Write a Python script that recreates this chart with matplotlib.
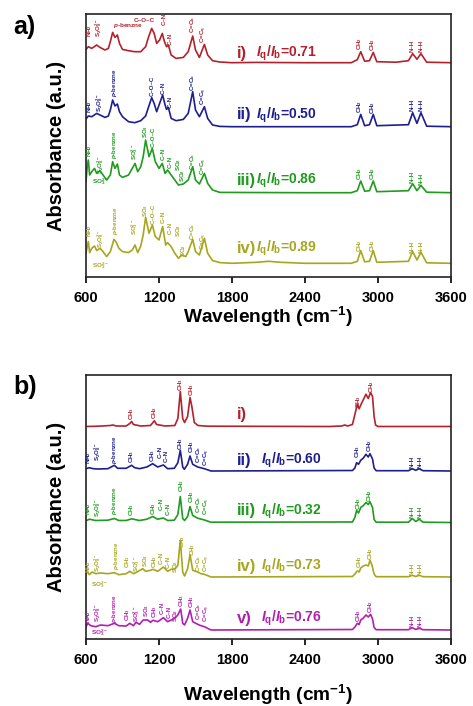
import matplotlib
matplotlib.use('Agg')
import matplotlib.pyplot as plt

plt.rcParams['font.family'] = ['Liberation Sans', 'DejaVu Sans']
plt.rcParams['font.weight'] = 'bold'
plt.rcParams['mathtext.fontset'] = 'custom'
plt.rcParams['mathtext.rm'] = 'Liberation Sans:bold'
plt.rcParams['mathtext.it'] = 'Liberation Sans:italic:bold'
plt.rcParams['mathtext.bf'] = 'Liberation Sans:bold'
plt.rcParams['mathtext.default'] = 'rm'

# ---------------- data: panel a ----------------
a1_wn = [600,619,647,688,715,756,784,800,819,838,858,875,900,950,1000,1050,1090,1115,1140,1160,
         1181,1205,1227,1245,1262,1277,1300,1340,1400,1440,1477,1500,1532,1573,1600,1640,1700,1800,2000,2400,
         2780,2830,2858,2890,2930,2961,2990,3150,3250,3285,3320,3353,3400,3600]
a1_abs = [13.3,16,14.3,17.7,15.3,12.7,14.3,21,30.3,25.3,27.7,19.3,13.3,12,11,11,16,26,34.3,29.3,
          19.3,22.7,29.3,21,16,17.7,7.7,4.3,5.3,11,26.7,12.7,5.3,18.3,7.7,2,0.7,0,0.3,0,
          0,3,11,1.5,2,10.3,1,0.5,2,9,3.5,9,0.5,0]

a2_wn = [600,619,647,688,715,756,784,800,819,838,858,875,900,950,1000,1050,1090,1115,1140,1160,
         1181,1205,1230,1250,1262,1277,1300,1340,1400,1440,1477,1500,1532,1573,1600,1640,1700,1800,2400,2780,
         2830,2858,2890,2930,2961,2990,3250,3285,3320,3353,3400,3600]
a2_abs = [7.7,10.7,10,13.3,11.7,9.3,10.7,16.7,26.7,20.7,22.7,15,10,5,4,6,10.7,20,29,23.3,
          15,23.3,31.7,21.7,17.3,19.3,8.3,6,7.3,13.3,35,16.7,10,20,8.3,1.7,0.3,0,0,0,
          2,12.3,1,2,12.3,1,2,14,3.3,14,0.5,0]

a3_wn = [600,610,619,630,647,670,688,715,740,770,800,819,838,858,875,900,950,980,1003,1025,
         1050,1070,1090,1118,1145,1170,1200,1227,1250,1270,1300,1330,1360,1400,1440,1477,1500,1532,1573,1600,
         1640,1700,2400,2780,2830,2858,2890,2930,2961,2990,3250,3285,3320,3353,3400,3600]
a3_abs = [11,26,32.7,17.7,21,24.3,19.3,22,17.7,12.7,17.7,31,24.3,28.7,17.7,15.3,17.7,24.3,29.3,21,
          26,36,52.7,36,44.3,31,24.3,29.3,19.3,22.7,17.7,12.7,7.7,8.7,12.7,26,12.7,8.7,19.3,9.3,
          2.7,0.3,0,0,2,11.7,1.5,2,11.7,1,2,9,2,7.3,0.5,0]

a4_wn = [600,610,619,630,647,670,688,715,740,770,800,830,850,870,900,950,980,1003,1025,1050,
         1070,1090,1118,1145,1170,1200,1230,1255,1270,1300,1330,1360,1385,1420,1440,1477,1500,1532,1573,1600,
         1640,1700,1800,2000,2100,2200,2400,2780,2830,2858,2890,2930,2961,2990,3250,3285,3320,3353,3400,3600]
a4_abs = [10,16.7,21.7,10.7,15,17.3,12.7,15,11.7,6.7,11.7,24,20.7,15,11.7,10.7,13.3,18.3,10.7,17.3,
          28.3,46,30,38.3,26.7,23.3,36.7,18.3,20.7,16.7,10,5,8.3,6.7,11.7,24,11.7,8.3,25,10,
          2.7,0.7,0,1,2,1,0,0,2,12.7,1.5,2,12.7,1,2,11.7,3.3,11,0.5,0]

a_offsets = [214.3, 150.3, 84.3, 13.7]
a_numerals = ['i)', 'ii)', 'iii)', 'iv)']
a_ratios = ['0.71', '0.50', '0.86', '0.89']

# ---------------- data: panel b ----------------
b1_wn = [600,700,800,820,850,930,960,975,990,1050,1130,1150,1162,1180,1250,1330,1355,1375,1395,1410,
         1435,1455,1470,1490,1520,1600,2600,2700,2728,2750,2790,2810,2830,2845,2860,2880,2901,2920,2939,2955,
         2968,2980,3000,3600]
b1_abs = [0,0.3,1,1.5,0.5,0.5,3,5,2,0.5,1,4,5.7,2,0.5,1,8,35,8,4,
          10,29,20,4,1,0.3,0,0.5,1.5,0.5,2,12,22.3,17.7,22,27,32.3,28,34,30,
          10,1.5,0,0]

b2_wn = [600,627,660,700,780,833,860,930,975,1000,1040,1100,1148,1189,1236,1271,1326,1355,1375,1395,
         1408,1435,1455,1477,1518,1573,1627,2790,2810,2824,2840,2858,2880,2901,2920,2934,2955,2968,2985,3250,
         3282,3310,3339,3370,3600]
b2_abs = [2.3,3.3,2.3,2,2.3,5.7,2.7,2.7,5.7,3.3,2.3,4,7.3,4,6,2.3,2.7,8.3,20.7,4,
          1.7,6.7,15,6.7,4,2.3,0,0.5,3,8.3,6.7,10.7,13,16.7,14,17.3,12,3,0.3,0.3,
          2.3,0.7,2.3,0.3,0]

b3_wn = [600,627,680,780,833,870,930,975,1040,1100,1148,1189,1236,1271,1326,1355,1375,1395,1410,1435,
         1455,1477,1518,1573,1627,2790,2810,2824,2840,2858,2880,2901,2920,2934,2955,2968,2985,3250,3282,3310,
         3339,3370,3600]
b3_abs = [1.7,3.3,2,2.3,4,2,2,3.7,2,3.3,6,3.3,4.5,2,2.3,8,26,4,2,6,
          16,7,4.3,2.5,0.3,0.5,5,12,9.5,15,17,20,18,20.7,15,3,0.3,0.3,4,1,
          3.3,0.3,0]

b4_wn = [600,615,627,650,680,720,780,833,870,930,960,990,1020,1066,1090,1130,1150,1190,1236,1271,
         1300,1334,1355,1375,1395,1410,1435,1455,1477,1518,1545,1573,1627,2790,2810,2830,2845,2858,2880,2901,
         2920,2934,2950,2968,2985,3250,3282,3310,3339,3370,3600]
b4_abs = [3.3,5,2.3,5,3.3,4,3.3,4.3,2.3,3.3,5.7,3.3,5,8.3,5.7,6.7,7.7,5.7,10,5.7,
          7.7,8.3,11.7,36.7,5,1,8.3,22.3,6.7,5,3.3,2.7,0,0.5,3,6,5,9,11,12,
          11,16.7,12,3,0.3,0.3,1.7,0.5,1.7,0.3,0]

b5_wn = [600,615,640,680,720,780,833,870,930,960,990,1010,1040,1070,1107,1130,1150,1190,1236,1271,
         1300,1334,1355,1378,1395,1410,1435,1455,1477,1518,1545,1573,1627,2790,2810,2830,2845,2858,2880,2901,
         2920,2939,2955,2968,2985,3250,3282,3310,3339,3370,3600]
b5_abs = [3.3,6.7,4.3,3.3,5,4.3,6.7,4.3,4,6.7,4.3,7.7,5.7,10,10,7.7,9.7,8.3,12.3,8.3,
          10,12.3,15,21,6.7,5,11.7,20,8.3,5.7,4.3,3.3,0,0.5,3,6.7,5.5,10,12,15,
          13,15.7,11,2.5,0.3,0.3,2.3,0.5,1.7,0.3,0]

b_offsets = [212.5, 168, 116.5, 62, 9]
b_numerals = ['i)', 'ii)', 'iii)', 'iv)', 'v)']
b_ratios = [None, '0.60', '0.32', '0.73', '0.76']

# ---------------- peak label texts ----------------
NH2 = 'NH$_2$'
S2O8 = 'S$_2$O$_8^{2-}$'
SO3m = 'SO$_3^{2-}$'
SO3 = 'SO$_3$'
SO2 = 'SO$_2$'
PB = r'$\mathit{p}$-benzne'
COC = 'C–O–C'
CN = 'C–N'
CCb = 'C=C$_b$'
CCq = 'C=C$_q$'
CH2 = 'CH$_2$'
CH3 = 'CH$_3$'
NH = 'N–H'

a_labels = [
    [(NH2, 627, 240.3, 90), (S2O8, 700, 239.7, 90), (PB, 948, 251.3, 0), (COC, 1080, 257, 0),
     (CN, 1244, 252, 90), (CN, 1290, 232, 90), (CCb, 1477, 243.7, 90), (CCq, 1570, 234.3, 90),
     (CH2, 2852, 227, 90), (CH2, 2956, 226.3, 90), (NH, 3282, 225.3, 90), (NH, 3351, 225.3, 90)],
    [(NH2, 632, 163.7, 90), (S2O8, 715, 165.3, 90), (PB, 838, 179.7, 90), (COC, 1145, 181, 90),
     (CN, 1236, 182.7, 90), (CN, 1290, 168.7, 90), (CCb, 1477, 186.3, 90), (CCq, 1573, 172, 90),
     (CH2, 2852, 163.7, 90), (CH2, 2956, 163, 90), (NH, 3282, 166, 90), (NH, 3351, 166, 90)],
    [(NH2, 627, 119.7, 90), (S2O8, 720, 103, 90), (SO3m, 720, 95.3, 0), (PB, 838, 117.7, 90),
     (SO3m, 1003, 117, 90), (SO3, 1090, 138.7, 90), (COC, 1153, 130.3, 90), (CN, 1236, 117, 90),
     (CN, 1290, 108.7, 90), (SO2, 1359, 106.3, 90), (SO2, 1395, 94.7, 90), (CCb, 1477, 107, 90),
     (CCq, 1570, 102, 90), (CH2, 2852, 97, 90), (CH2, 2956, 97, 90), (NH, 3282, 94.3, 90), (NH, 3351, 92, 90)],
    [(NH2, 627, 39.7, 90), (S2O8, 720, 28.7, 90), (SO3m, 720, 11.3, 0), (PB, 844, 42, 90),
     (SO3m, 1003, 42, 90), (SO3, 1090, 60.3, 90), (COC, 1153, 53, 90), (CN, 1236, 54.3, 90),
     (CN, 1290, 43, 90), (SO2, 1359, 39.7, 90), (SO2, 1400, 20.3, 90), (CCb, 1477, 37, 90),
     (CCq, 1570, 27, 90), (CH2, 2852, 25.3, 90), (CH2, 2956, 25.3, 90), (NH, 3282, 23.7, 90), (NH, 3351, 23.7, 90)],
]

b_labels = [
    [(CH3, 975, 219, 90), (CH2, 1162, 220, 90), (CH3, 1381, 248, 90), (CH3, 1466, 243.3, 90),
     (CH3, 2838, 231, 90), (CH2, 2948, 245.7, 90)],
    [(NH2, 625, 174.7, 90), (S2O8, 694, 178, 90), (PB, 833, 174.7, 90), (CH3, 978, 175.7, 90),
     (CH3, 1150, 176.7, 90), (CN, 1208, 180.7, 90), (CN, 1262, 176.7, 90), (CH3, 1381, 189, 90),
     (CH3, 1464, 185.7, 90), (CCb, 1522, 175.7, 90), (CCq, 1592, 173.3, 90),
     (CH3, 2830, 180.7, 90), (CH2, 2934, 187.3, 90), (NH, 3282, 171.3, 90), (NH, 3345, 171.3, 90)],
    [(NH2, 625, 124, 90), (S2O8, 695, 122.3, 90), (PB, 838, 124, 90), (CH3, 975, 123, 90),
     (CH3, 1155, 124, 90), (CN, 1216, 129, 90), (CN, 1272, 124, 90), (CH3, 1386, 147.3, 90),
     (CH3, 1466, 135.7, 90), (CCb, 1524, 125.7, 90), (CCq, 1595, 124, 90),
     (CH3, 2838, 129, 90), (CH2, 2934, 137.3, 90), (NH, 3282, 120.7, 90), (NH, 3345, 120.7, 90)],
    [(NH2, 625, 65.7, 90), (S2O8, 695, 67.3, 90), (SO3m, 715, 54.7, 0), (PB, 847, 69, 90),
     (CH3, 943, 70.7, 90), (SO3m, 1014, 67.3, 90), (SO3, 1090, 72.3, 90), (CH3, 1160, 71.3, 90),
     (CN, 1219, 74.7, 90), (CN, 1276, 71.3, 90), (SO2, 1334, 65.7, 90), (CH3, 1395, 91.3, 90),
     (CH3, 1474, 83.3, 90), (CCb, 1524, 67.3, 90), (CCq, 1592, 66.7, 90),
     (CH3, 2846, 70.7, 90), (CH2, 2939, 79, 90), (NH, 3282, 64, 90), (NH, 3345, 64, 90)],
    [(NH2, 622, 15.7, 90), (S2O8, 697, 17.3, 90), (SO3m, 715, 6.7, 0), (PB, 833, 15.7, 90),
     (CH3, 943, 18, 90), (SO3m, 1014, 16.7, 90), (SO3, 1099, 22.3, 90), (CH3, 1162, 20.7, 90),
     (CN, 1225, 24.7, 90), (CN, 1282, 21.3, 90), (SO2, 1336, 17.3, 90), (CH3, 1389, 32.3, 90),
     (CH3, 1468, 31.3, 90), (CCb, 1522, 19, 90), (CCq, 1592, 17.3, 90),
     (CH3, 2838, 17.3, 90), (CH2, 2939, 25.7, 90), (NH, 3282, 12.3, 90), (NH, 3345, 12.3, 90)],
]

a_y_text = [223.7, 162, 97, 28.7]
b_y_text = [225, 179, 128, 73, 20.7]

colors = ['#B3222C', '#1E1E8E', '#1F9B1F', '#A6A61F', '#B01FB0']

W, H = 473, 706
fig = plt.figure(figsize=(W / 100, H / 100), dpi=100)


def add_axes(left, top, right, bottom):
    return fig.add_axes([left / W, 1 - bottom / H, (right - left) / W, (bottom - top) / H])


def style_axes(ax, ylim):
    ax.set_xlim(600, 3600)
    ax.set_ylim(0, ylim)
    ax.set_xticks(range(600, 3601, 600))
    ax.set_yticks([])
    ax.tick_params(axis='x', direction='out', length=4, width=1.2, labelsize=10.5, pad=6)
    for lab in ax.get_xticklabels():
        lab.set_fontweight('bold')
    for sp in ax.spines.values():
        sp.set_linewidth(1.2)
        sp.set_color('#222222')


def draw_panel(ax, spectra, offsets, labels, numerals, ratios, ytext, ratio_x):
    for i, (wn, ab) in enumerate(spectra):
        c = colors[i]
        ax.plot(wn, [v + offsets[i] for v in ab], color=c, lw=1.2)
        for (txt, x, y, rot) in labels[i]:
            if rot == 90:
                ax.text(x, y, txt, rotation=90, ha='center', va='bottom', fontsize=4.4,
                        color=c, fontweight='bold', clip_on=False)
            else:
                ax.text(x, y, txt, ha='center', va='center', fontsize=4.6,
                        color=c, fontweight='bold', clip_on=False)
        ax.text(1841, ytext[i], numerals[i], ha='left', va='center', fontsize=12,
                color=c, fontweight='bold')
        if ratios[i] is not None:
            ax.text(ratio_x, ytext[i], r'$\mathit{I}_q/\mathit{I}_b$=' + ratios[i],
                    ha='left', va='center', fontsize=10, color=c, fontweight='bold')


ax_a = add_axes(86, 14, 451, 277)
style_axes(ax_a, 263)
draw_panel(ax_a, [(a1_wn, a1_abs), (a2_wn, a2_abs), (a3_wn, a3_abs), (a4_wn, a4_abs)],
           a_offsets, a_labels, a_numerals, a_ratios, a_y_text, 2000)

ax_b = add_axes(86, 375, 451, 639)
style_axes(ax_b, 264)
draw_panel(ax_b, [(b1_wn, b1_abs), (b2_wn, b2_abs), (b3_wn, b3_abs), (b4_wn, b4_abs), (b5_wn, b5_abs)],
           b_offsets, b_labels, b_numerals, b_ratios, b_y_text, 2040)

# axis titles and panel letters
xlab = 'Wavelength (cm$^{-1}$)'
fig.text(268.5 / W, 1 - 323 / H, xlab, ha='center', va='baseline', fontsize=13.8, fontweight='bold')
fig.text(268.5 / W, 1 - 701 / H, xlab, ha='center', va='baseline', fontsize=13.8, fontweight='bold')
fig.text(57 / W, 1 - 145.5 / H, 'Absorbance (a.u.)', rotation=90, ha='center', va='center',
         fontsize=14.5, fontweight='bold')
fig.text(57 / W, 1 - 507 / H, 'Absorbance (a.u.)', rotation=90, ha='center', va='center',
         fontsize=14.5, fontweight='bold')
fig.text(13 / W, 1 - 15 / H, 'a)', ha='left', va='top', fontsize=18, fontweight='bold')
fig.text(13 / W, 1 - 375 / H, 'b)', ha='left', va='top', fontsize=18, fontweight='bold')

fig.savefig('out.png', dpi=100)
